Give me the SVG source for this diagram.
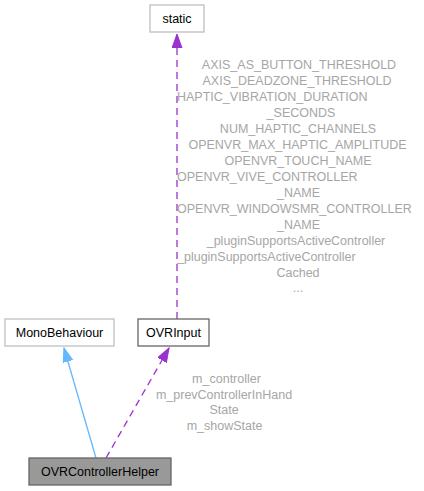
<svg xmlns="http://www.w3.org/2000/svg" width="424" height="491" viewBox="0 0 424 491">
<style>
  text { font-family: "Liberation Sans", Arial, sans-serif; font-size: 12.5px; }
  .node text { fill: #000000; text-anchor: middle; }
  .lbl { fill: #a6a6a6; }
  .c { text-anchor: middle; }
  .l { text-anchor: start; }
  .ext rect { fill: #ffffff; stroke: #bfbfbf; stroke-width: 1.3; }
  .cls rect { fill: #ffffff; stroke: #666666; stroke-width: 1.3; }
  .cur rect { fill: #999999; stroke: #666666; stroke-width: 1.3; }
  .usage { stroke: #9a32cd; stroke-width: 1.3; fill: none; stroke-dasharray: 7,5; }
  .inherit { stroke: #63b8ff; stroke-width: 1.3; fill: none; }
</style>
<defs>
  <marker id="ap" markerUnits="userSpaceOnUse" markerWidth="15" markerHeight="12" refX="14" refY="5" orient="auto">
    <path d="M0,0 L14,5 L0,10 z" fill="#9a32cd" stroke="#9a32cd" stroke-width="1"/>
  </marker>
  <marker id="ab" markerUnits="userSpaceOnUse" markerWidth="15" markerHeight="12" refX="14" refY="5" orient="auto">
    <path d="M0,0 L14,5 L0,10 z" fill="#63b8ff" stroke="#63b8ff" stroke-width="1"/>
  </marker>
</defs>
<rect width="424" height="491" fill="#ffffff"/>
<g id="connectors">
  <path class="usage" d="M177,319 L177,34" marker-end="url(#ap)"/>
  <path class="inherit" d="M96,458 L64,348" marker-end="url(#ab)"/>
  <path class="usage" d="M106,458 L169,348" marker-end="url(#ap)"/>
</g>
<g id="labels">
  <text class="lbl c" x="299" y="69">AXIS_AS_BUTTON_THRESHOLD</text>
  <text class="lbl c" x="297" y="85">AXIS_DEADZONE_THRESHOLD</text>
  <text class="lbl l" x="177" y="101">HAPTIC_VIBRATION_DURATION</text>
  <text class="lbl c" x="301" y="117">_SECONDS</text>
  <text class="lbl c" x="298" y="133">NUM_HAPTIC_CHANNELS</text>
  <text class="lbl c" x="297.5" y="149">OPENVR_MAX_HAPTIC_AMPLITUDE</text>
  <text class="lbl c" x="298" y="165">OPENVR_TOUCH_NAME</text>
  <text class="lbl l" x="177" y="181">OPENVR_VIVE_CONTROLLER</text>
  <text class="lbl c" x="298.5" y="197">_NAME</text>
  <text class="lbl l" x="177" y="213">OPENVR_WINDOWSMR_CONTROLLER</text>
  <text class="lbl c" x="298.5" y="229">_NAME</text>
  <text class="lbl c" x="296" y="245">_pluginSupportsActiveController</text>
  <text class="lbl l" x="177" y="261">_pluginSupportsActiveController</text>
  <text class="lbl c" x="298" y="277">Cached</text>
  <text class="lbl c" x="298" y="292">...</text>
  <text class="lbl c" x="226.5" y="383">m_controller</text>
  <text class="lbl c" x="224" y="398.5">m_prevControllerInHand</text>
  <text class="lbl c" x="224" y="414">State</text>
  <text class="lbl c" x="224.5" y="429.5">m_showState</text>
</g>
<g id="static" class="node ext">
  <rect x="150" y="5" width="54" height="27"/>
  <text x="177" y="23">static</text>
</g>
<g id="MonoBehaviour" class="node ext">
  <rect x="5" y="319" width="109" height="27"/>
  <text x="59.5" y="337">MonoBehaviour</text>
</g>
<g id="OVRInput" class="node cls">
  <rect x="138" y="319" width="71" height="27"/>
  <text x="173.5" y="337">OVRInput</text>
</g>
<g id="OVRControllerHelper" class="node cur">
  <rect x="29" y="458" width="142" height="27"/>
  <text x="100" y="476">OVRControllerHelper</text>
</g>
</svg>
